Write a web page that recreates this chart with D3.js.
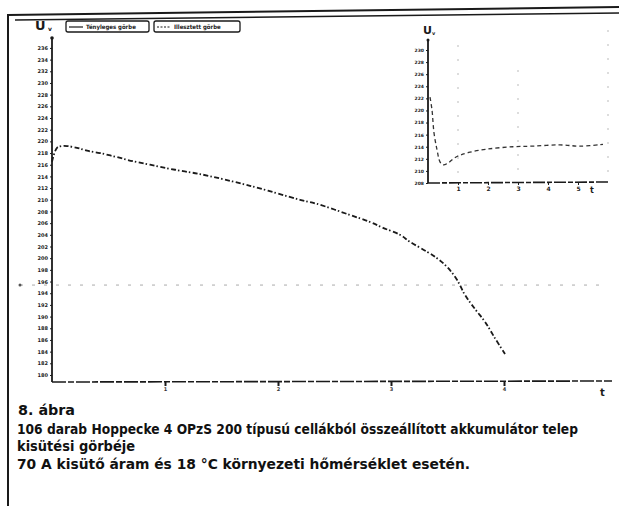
<!DOCTYPE html>
<html><head><meta charset="utf-8">
<script src="https://cdn.jsdelivr.net/npm/d3@7"></script>
<style>body{margin:0;background:#fff}svg{display:block}</style>
</head><body>
<svg id="c" width="619" height="506"></svg>
<script>
// ---- data ----
const mainTime = [0,0.044,0.088,0.133,0.221,0.31,0.425,0.575,0.717,0.867,1.018,1.159,1.31,1.752,2.195,2.345,2.637,2.814,2.929,3.08,3.168,3.319,3.407,3.496,3.584,3.655,3.743,3.832,3.920,4.009];
const mainU    = [216.5,218.9,219.2,219.2,218.9,218.4,218.0,217.3,216.6,216.0,215.4,214.9,214.4,212.4,210.0,209.3,207.4,206.2,205.2,204.0,202.8,201.1,200.0,198.5,196.3,193.7,191.3,189.1,186.3,183.6];
const mainYTicks = d3.range(180, 237, 2);
const mainXTicks = [1,2,3,4];
const limitU = 195.4;
const insetTime = [0.067,0.133,0.2,0.3,0.4,0.5,0.667,0.867,1.067,1.4,1.967,2.833,3.5,4.4,5.067,5.833];
const insetU    = [222.2,220.1,216.3,213.5,211.5,211.0,211.3,212.1,212.6,213.1,213.6,214.0,214.1,214.3,214.1,214.4];
const insetYTicks = d3.range(208, 231, 2);
const insetXTicks = [1,2,3,4,5];
const legendLabels = ["Tényleges görbe","Illesztett görbe"];
const captionTitle = "8. ábra";
const captionLines = ["106 darab Hoppecke 4 OPzS 200 típusú cellákból összeállított akkumulátor telep","kisütési görbéje","70 A kisütő áram és 18 °C környezeti hőmérséklet esetén."];

const svg = d3.select("#c");
const ink = "#1a1a1a";

// frame
svg.append("line").attr("x1",8).attr("y1",15).attr("x2",619).attr("y2",7).attr("stroke",ink).attr("stroke-width",2);
svg.append("line").attr("x1",15).attr("y1",20).attr("x2",619).attr("y2",13).attr("stroke",ink).attr("stroke-width",1.6);
svg.append("line").attr("x1",8).attr("y1",14).attr("x2",8).attr("y2",506).attr("stroke",ink).attr("stroke-width",2);

// ---- main chart ----
const x = d3.scaleLinear().domain([0,4]).range([52,504]);
const y = d3.scaleLinear().domain([178.8,237.7]).range([382,38]);

// faint grid
svg.append("line").attr("x1",20).attr("x2",605).attr("y1",y(limitU)).attr("y2",y(limitU))
  .attr("stroke","#aaa").attr("stroke-width",1).attr("stroke-dasharray","3,9");
svg.append("circle").attr("cx",20).attr("cy",y(limitU)).attr("r",1.5).attr("fill","#555");

// y axis
const yAx = svg.append("g").attr("transform","translate(52,0)")
  .call(d3.axisLeft(y).tickValues(mainYTicks).tickSize(2).tickPadding(2).tickFormat(d3.format("d")));
yAx.select(".domain").remove();
yAx.selectAll("line").attr("stroke",ink);
yAx.selectAll("text").attr("font-size",5).attr("font-weight","bold").attr("font-family","DejaVu Sans").attr("fill","#222");
svg.append("line").attr("x1",52).attr("x2",52).attr("y1",38).attr("y2",382).attr("stroke",ink).attr("stroke-width",1.8);
svg.append("circle").attr("cx",52).attr("cy",38).attr("r",1.8).attr("fill",ink);

// x axis
const xAx = svg.append("g").attr("transform","translate(0,382)")
  .call(d3.axisBottom(x).tickValues(mainXTicks).tickSize(4).tickPadding(1).tickFormat(d3.format("d")));
xAx.select(".domain").remove();
xAx.selectAll("line").attr("stroke",ink).attr("stroke-width",2);
xAx.selectAll("text").attr("font-size",5).attr("font-weight","bold").attr("font-family","DejaVu Sans").attr("fill","#333");
svg.append("line").attr("x1",52).attr("x2",612).attr("y1",382).attr("y2",381).attr("stroke",ink).attr("stroke-width",1.6).attr("stroke-dasharray","14,2,6,2");
svg.append("text").attr("x",600).attr("y",396).attr("font-size",10).attr("font-weight","bold").attr("font-family","DejaVu Sans").attr("fill",ink).text("t");
svg.append("text").attr("x",35).attr("y",30).attr("font-size",13).attr("font-weight","bold").attr("font-family","DejaVu Sans").attr("fill",ink).text("U");
svg.append("text").attr("x",48).attr("y",31).attr("font-size",6).attr("font-weight","bold").attr("font-family","DejaVu Sans").attr("fill",ink).text("v");

// curve
const line = d3.line().x((d,i)=>x(mainTime[i])).y(d=>y(d)).curve(d3.curveCatmullRom.alpha(0.5));
svg.append("path").attr("d",line(mainU)).attr("fill","none").attr("stroke",ink)
  .attr("stroke-width",1.8).attr("stroke-dasharray","5,2,1.5,2.5");

// legend boxes
const leg = [{x:66,w:83,dash:null},{x:154,w:86,dash:"2,1.5"}];
leg.forEach((b,i)=>{
  svg.append("rect").attr("x",b.x).attr("y",21).attr("width",b.w).attr("height",11).attr("rx",2)
    .attr("fill","#fff").attr("stroke",ink).attr("stroke-width",1.3);
  svg.append("line").attr("x1",b.x+3).attr("x2",b.x+17).attr("y1",27).attr("y2",27)
    .attr("stroke",ink).attr("stroke-width",1.2).attr("stroke-dasharray",b.dash);
  svg.append("text").attr("x",b.x+20).attr("y",29).attr("font-size",6).attr("font-weight","bold")
    .attr("font-family","DejaVu Sans Condensed").attr("fill","#222").text(legendLabels[i]);
});

// ---- inset ----
const ix = d3.scaleLinear().domain([0,1]).range([428,458]);
const iy = d3.scaleLinear().domain([208,230]).range([183,50]);
[458,518,608].forEach((gx,i)=>{
  svg.append("line").attr("x1",gx).attr("x2",gx).attr("y1",[45,70,30][i]).attr("y2",183)
    .attr("stroke","#bbb").attr("stroke-width",1).attr("stroke-dasharray","2,12");
});
const iyAx = svg.append("g").attr("transform","translate(428,0)")
  .call(d3.axisLeft(iy).tickValues(insetYTicks).tickSize(2).tickPadding(2).tickFormat(d3.format("d")));
iyAx.select(".domain").remove();
iyAx.selectAll("line").attr("stroke",ink);
iyAx.selectAll("text").attr("font-size",4.5).attr("font-weight","bold").attr("font-family","DejaVu Sans").attr("fill","#222");
svg.append("line").attr("x1",428).attr("x2",428).attr("y1",40).attr("y2",183).attr("stroke",ink).attr("stroke-width",1.8);
svg.append("circle").attr("cx",428).attr("cy",40).attr("r",1.5).attr("fill",ink);
const ixAx = svg.append("g").attr("transform","translate(0,183)")
  .call(d3.axisBottom(ix).tickValues(insetXTicks).tickSize(2).tickPadding(2).tickFormat(d3.format("d")));
ixAx.select(".domain").remove();
ixAx.selectAll("line").attr("stroke",ink);
ixAx.selectAll("text").attr("font-size",6).attr("font-weight","bold").attr("font-family","DejaVu Sans").attr("fill","#222");
svg.append("line").attr("x1",428).attr("x2",608).attr("y1",183).attr("y2",182).attr("stroke",ink).attr("stroke-width",1.6).attr("stroke-dasharray","12,2,5,2");
svg.append("text").attr("x",590).attr("y",193).attr("font-size",8).attr("font-weight","bold").attr("font-family","DejaVu Sans").attr("fill",ink).text("t");
svg.append("text").attr("x",423).attr("y",34).attr("font-size",11).attr("font-weight","bold").attr("font-family","DejaVu Sans").attr("fill",ink).text("U");
svg.append("text").attr("x",432).attr("y",35).attr("font-size",5).attr("font-weight","bold").attr("font-family","DejaVu Sans").attr("fill",ink).text("v");
const iline = d3.line().x((d,i)=>ix(insetTime[i])).y(d=>iy(d)).curve(d3.curveCatmullRom.alpha(0.5));
svg.append("path").attr("d",iline(insetU)).attr("fill","none").attr("stroke","#333")
  .attr("stroke-width",1.3).attr("stroke-dasharray","4,3");

// ---- caption ----
const capFont = "'DejaVu Sans Condensed','Liberation Sans Narrow',sans-serif";
svg.append("text").attr("x",18).attr("y",415).attr("font-size",14).attr("font-weight","bold")
  .attr("font-family",capFont).attr("fill","#111").attr("textLength",57).attr("lengthAdjust","spacingAndGlyphs").text(captionTitle);
const capY = [434,451,469], capW = [561,118,453];
captionLines.forEach((t,i)=>{
  svg.append("text").attr("x",17).attr("y",capY[i]).attr("font-size",13.5).attr("font-weight","bold")
    .attr("font-family",capFont).attr("fill","#111").attr("textLength",capW[i]).attr("lengthAdjust","spacingAndGlyphs").text(t);
});
</script>
</body></html>
